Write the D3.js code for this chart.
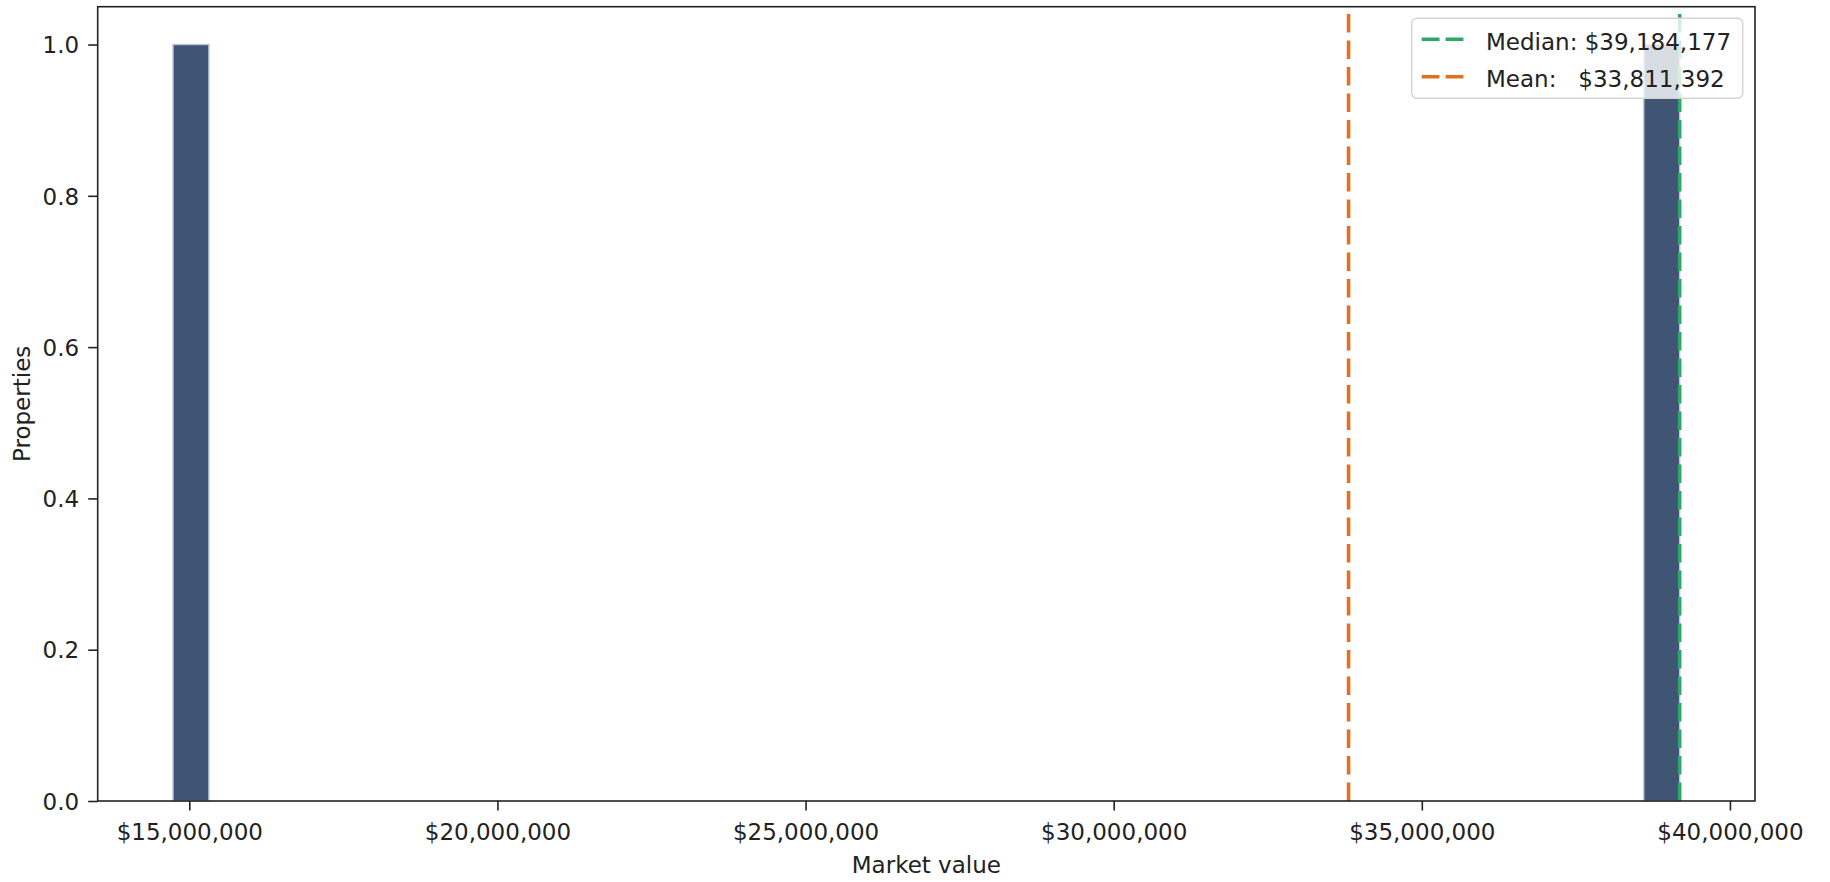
<!DOCTYPE html>
<html>
<head>
<meta charset="utf-8">
<script src="https://cdn.jsdelivr.net/npm/d3@7"></script>
<style>
  html, body { margin: 0; padding: 0; background: #fff; }
  svg text { font-family: "DejaVu Sans", sans-serif; font-size: 23px; fill: #222; }
</style>
</head>
<body>
<div id="chart"></div>
<script>
// property market values (one per property)
const values = [14736000, 39184177];
const binCount = 42;
const medianValue = 39184177;
const meanValue = 33811392;
const xTicks = [15000000, 20000000, 25000000, 30000000, 35000000, 40000000];
const yTicks = [0, 0.2, 0.4, 0.6, 0.8, 1.0];
const legendItems = [
  { label: 'Median: $39,184,177', value: medianValue, color: '#2ea86a' },
  { label: 'Mean:   $33,811,392', value: meanValue, color: '#e2701f' }
];

let full_width = 1830,
    full_height = 882,
    margins = { top: 6.7, right: 75, bottom: 81, left: 97.7 },
    width = full_width - margins.left - margins.right,
    height = full_height - margins.top - margins.bottom;

let vmin = d3.min(values), vmax = d3.max(values);
let step = (vmax - vmin) / binCount;
let thresholds = d3.range(1, binCount).map(function(i){ return vmin + i * step; });

let bins = d3.bin()
  .domain([vmin, vmax])
  .thresholds(thresholds)(values);

let pad = (vmax - vmin) * 0.05;
let x = d3.scaleLinear()
  .domain([vmin - pad, vmax + pad])
  .range([0, width]);

let y = d3.scaleLinear()
  .domain([0, 1.05])
  .range([height, 0]);

let fmt = d3.format(',');

let svg = d3.select('#chart')
  .append('svg')
  .attr('width', full_width)
  .attr('height', full_height);

let g = svg.append('g')
  .attr('transform', 'translate(' + margins.left + ',' + margins.top + ')');

// histogram bars
g.selectAll('.bar')
  .data(bins.filter(function(b){ return b.length > 0; }))
  .enter()
  .append('rect')
  .attr('class', 'bar')
  .attr('x', function(d){ return x(d.x0); })
  .attr('width', function(d){ return x(d.x1) - x(d.x0); })
  .attr('y', function(d){ return y(d.length); })
  .attr('height', function(d){ return y(0) - y(d.length); })
  .attr('fill', '#3f5573')
  .attr('stroke', '#b9c4d3')
  .attr('stroke-width', 1.4);

// median / mean lines, drawn bottom to top so the dash starts at the axis
g.selectAll('.ref-line')
  .data(legendItems)
  .enter()
  .append('line')
  .attr('class', 'ref-line')
  .attr('x1', function(d){ return x(d.value); })
  .attr('x2', function(d){ return x(d.value); })
  .attr('y1', height)
  .attr('y2', 0)
  .attr('stroke', function(d){ return d.color; })
  .attr('stroke-width', 3.6)
  .attr('stroke-dasharray', '18.5,8');

// axes
let xAxis = d3.axisBottom(x)
  .tickValues(xTicks)
  .tickSize(9.5)
  .tickSizeOuter(0)
  .tickFormat(function(d){ return '$' + fmt(d); });

let yAxis = d3.axisLeft(y)
  .tickValues(yTicks)
  .tickSize(9.5)
  .tickSizeOuter(0)
  .tickPadding(9)
  .tickFormat(d3.format('.1f'));

let gx = g.append('g')
  .attr('class', 'axis axis--x')
  .attr('transform', 'translate(0,' + height + ')')
  .call(xAxis);
gx.selectAll('text').attr('y', 39).attr('dy', 0);

let gy = g.append('g')
  .attr('class', 'axis axis--y')
  .call(yAxis);
gy.selectAll('text').attr('dy', '0.36em');

g.selectAll('.axis .domain').remove();
g.selectAll('.axis line').attr('stroke', '#222').attr('stroke-width', 1.6);
g.selectAll('.axis text').attr('fill', '#222').style('font-size', '23px');

// frame
g.append('rect')
  .attr('x', 0)
  .attr('y', 0)
  .attr('width', width)
  .attr('height', height)
  .attr('fill', 'none')
  .attr('stroke', '#222')
  .attr('stroke-width', 1.6);

// axis labels
g.append('text')
  .attr('x', width / 2)
  .attr('y', height + 72)
  .attr('text-anchor', 'middle')
  .text('Market value');

g.append('text')
  .attr('transform', 'translate(' + (30 - margins.left) + ',' + (height / 2) + ') rotate(-90)')
  .attr('text-anchor', 'middle')
  .text('Properties');

// legend
let legend = svg.append('g')
  .attr('transform', 'translate(1411.7,18.3)');

legend.append('rect')
  .attr('width', 331)
  .attr('height', 80)
  .attr('rx', 5)
  .attr('fill', 'rgba(255,255,255,0.8)')
  .attr('stroke', '#d4d4d4')
  .attr('stroke-width', 1.4);

let item = legend.selectAll('.legend-item')
  .data(legendItems)
  .enter()
  .append('g')
  .attr('class', 'legend-item')
  .attr('transform', function(d, i){ return 'translate(0,' + (21 + i * 37.4) + ')'; });

item.append('line')
  .attr('x1', 10)
  .attr('x2', 51.7)
  .attr('stroke', function(d){ return d.color; })
  .attr('stroke-width', 3.6)
  .attr('stroke-dasharray', '17.8,6.1');

item.append('text')
  .attr('x', 74.3)
  .attr('y', 10.5)
  .attr('xml:space', 'preserve')
  .style('white-space', 'pre')
  .text(function(d){ return d.label; });
</script>
</body>
</html>
